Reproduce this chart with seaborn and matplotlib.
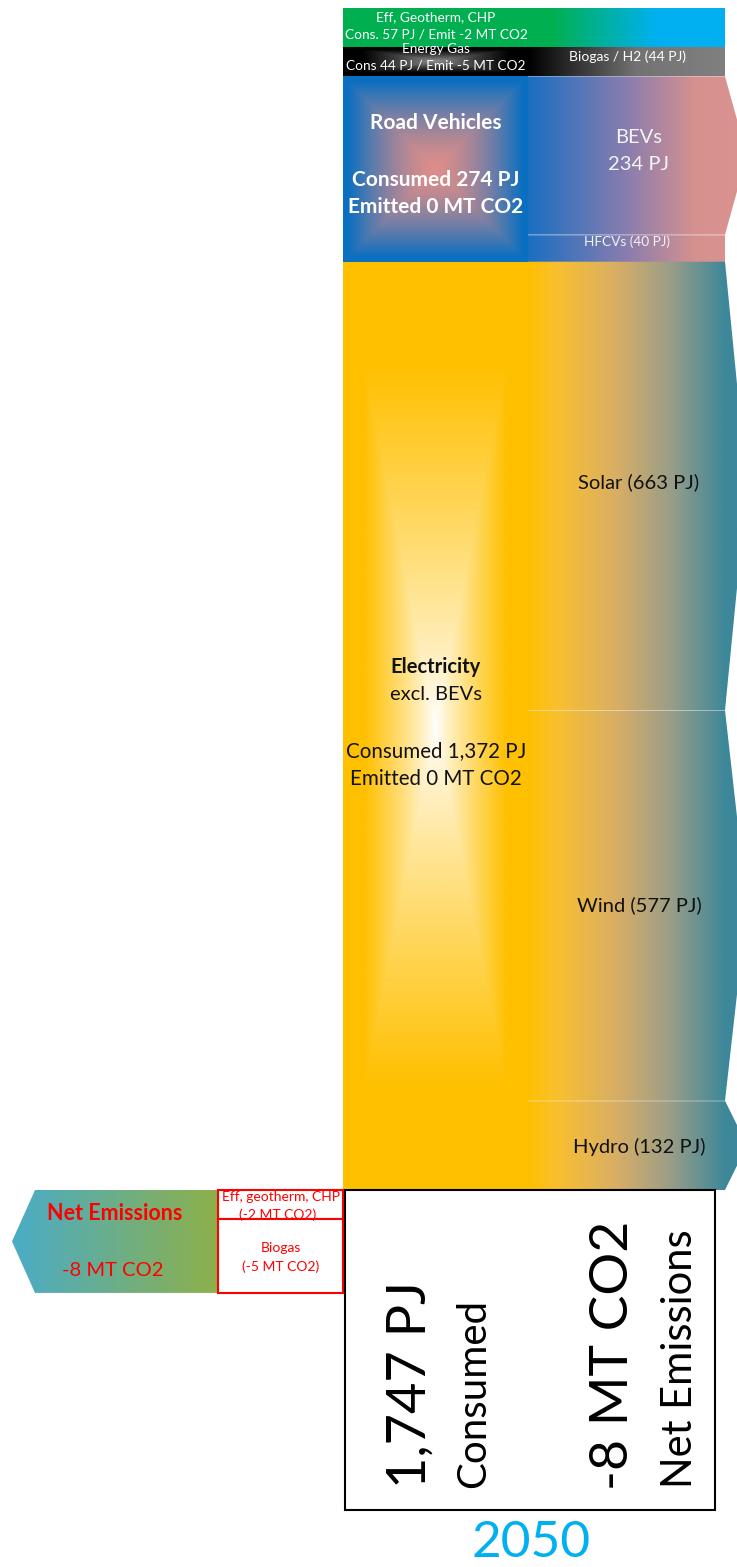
import numpy as np
import matplotlib
matplotlib.use("Agg")
import matplotlib.pyplot as plt
from matplotlib.patches import Polygon, Rectangle
from matplotlib.colors import LinearSegmentedColormap
import seaborn as sns

# ---- data -------------------------------------------------------------
year = "2050"

# consuming sectors, top to bottom (PJ and MT CO2)
sectors = ["Eff, Geotherm, CHP", "Energy Gas", "Road Vehicles", "Electricity"]
sector_pj = [57, 44, 274, 1372]
sector_co2 = [-2, -5, 0, 0]

# supply sources feeding the sectors, top to bottom (PJ)
sources = ["Eff, Geotherm, CHP", "Biogas / H2", "BEVs", "HFCVs", "Solar", "Wind", "Hydro"]
source_pj = [57, 44, 234, 40, 663, 577, 132]
source_arrow = [False, False, True, False, True, True, True]

# negative-emission contributions (MT CO2)
offset_labels = ["Eff, geotherm, CHP", "Biogas"]
offset_co2 = [-2, -5]
net_co2 = -8

total_pj = sum(sector_pj)

# ---- styling ----------------------------------------------------------
sns.set_theme(style="white")
plt.rcParams["font.family"] = ["Lato", "DejaVu Sans"]

W_PX, H_PX = 737, 1567
fig = plt.figure(figsize=(W_PX / 100, H_PX / 100), dpi=100)
ax = fig.add_axes([0, 0, 1, 1])
ax.set_axis_off()

TOP_PX, STACK_PX = 8, 1182
px_per_pj = STACK_PX / total_pj
px_per_mt = 14.7


def y_of(px):
    """Convert a vertical pixel offset into the PJ axis units."""
    return (px - TOP_PX) / px_per_pj


L0, L1 = 343, 528          # sector column
R1, TIP = 725, 22          # source column right edge and arrow depth


def cmap_from(stops):
    return LinearSegmentedColormap.from_list("g", stops)


def hgrad(stops, n=256):
    return cmap_from(stops)(np.linspace(0, 1, n))[None, :, :3]


def box_glow(w, h, center, edge, frac, power=1.0):
    nx = 160
    ny = max(8, int(nx * h / w))
    X, Y = np.meshgrid(np.linspace(-1, 1, nx), np.linspace(-1, 1, ny))
    t = np.clip(np.maximum(np.abs(X), np.abs(Y)) / frac, 0, 1) ** power
    return cmap_from([center, edge])(t)[..., :3]


def paint(patch, img, x0, x1, y0, y1, z=2):
    patch.set_facecolor("none")
    patch.set_edgecolor("none")
    im = ax.imshow(img, extent=(x0, x1, y1, y0), origin="upper",
                   aspect="auto", interpolation="bilinear", zorder=z)
    im.set_clip_path(patch)


# ---- sector column (stacked bar) -----------------------------------------
sec_bottom = np.concatenate([[0], np.cumsum(sector_pj)[:-1]])
bars = ax.bar([(L0 + L1) / 2] * len(sectors), sector_pj, bottom=sec_bottom,
              width=L1 - L0, color="none", linewidth=0, zorder=2)

sector_fill = [
    ("#00B050", "#00B050", 1.0, 1.0),
    ("#909090", "#000000", 0.8, 0.9),
    ("#DC8E8A", "#0A6FC1", 0.95, 1.5),
    ("#FFFFFF", "#FFC000", 0.78, 0.85),
]
for patch, b, v, (c_in, c_out, frac, pw) in zip(bars.patches, sec_bottom, sector_pj, sector_fill):
    h_px = v * px_per_pj
    img = box_glow(L1 - L0, h_px, c_in, c_out, frac, pw)
    paint(patch, img, L0, L1, b, b + v)

# ---- source column --------------------------------------------------------
src_grad = {
    0: [(0, "#00B050"), (0.12, "#00B050"), (0.65, "#00B0F0"), (1, "#00B0F0")],
    1: [(0, "#000000"), (0.1, "#151515"), (0.55, "#737373"), (1, "#808080")],
    2: [(0, "#1A6FC2"), (0.5, "#8A7DAE"), (0.85, "#D6918F"), (1, "#D9928F")],
    3: [(0, "#FFC000"), (0.15, "#F9BF30"), (0.45, "#D8AE66"), (0.72, "#9A9E88"), (1, "#3C8799")],
}
# stretch each gradient so it ends at the column edge and holds through the arrow tip
span = (R1 - L1) / (R1 + TIP - L1)
src_grad = {k: [(p * span, c) for p, c in v] + [(1, v[-1][1])] for k, v in src_grad.items()}

source_sector = [0, 1, 2, 2, 3, 3, 3]
src_bottom = np.concatenate([[0], np.cumsum(source_pj)[:-1]])
for i, (b, v) in enumerate(zip(src_bottom, source_pj)):
    t = b + v
    if source_arrow[i]:
        pts = [(L1, b), (R1, b), (R1 + TIP, (b + t) / 2), (R1, t), (L1, t)]
    else:
        pts = [(L1, b), (R1, b), (R1, t), (L1, t)]
    poly = Polygon(pts, closed=True)
    ax.add_patch(poly)
    paint(poly, hgrad(src_grad[source_sector[i]]), L1, R1 + TIP, b, t)

# faint seams between sources of the same sector
for i in range(1, len(source_pj)):
    if source_sector[i] == source_sector[i - 1]:
        ax.plot([L1, R1], [src_bottom[i]] * 2, color="white", lw=0.6,
                alpha=0.25, zorder=3)

# ---- labels on the stacks ---------------------------------------------------
W, K = "white", "#111111"
kw = dict(ha="center", va="center", zorder=5)
ax.text(436, y_of(17), sectors[0], color=W, fontsize=9.8, **kw)
ax.text(436, y_of(35), f"Cons. {sector_pj[0]} PJ / Emit {sector_co2[0]} MT CO2",
        color=W, fontsize=9.8, **kw)
ax.text(436, y_of(49), sectors[1], color=W, fontsize=9.8, **kw)
ax.text(436, y_of(66), f"Cons {sector_pj[1]} PJ / Emit {sector_co2[1]} MT CO2",
        color=W, fontsize=9.8, **kw)
ax.text(628, y_of(57), f"{sources[1]} ({source_pj[1]} PJ)", color=W, fontsize=10, **kw)

ax.text(436, y_of(123), sectors[2], color=W, fontsize=15, fontweight="bold", **kw)
ax.text(436, y_of(180), f"Consumed {sector_pj[2]} PJ", color=W, fontsize=15,
        fontweight="bold", **kw)
ax.text(436, y_of(207), f"Emitted {sector_co2[2]} MT CO2", color=W, fontsize=15,
        fontweight="bold", **kw)
ax.text(639, y_of(138), sources[2], color="#F4F4F4", fontsize=14.5, **kw)
ax.text(639, y_of(165), f"{source_pj[2]} PJ", color="#F4F4F4", fontsize=14.5, **kw)
ax.text(627, y_of(242), f"{sources[3]} ({source_pj[3]} PJ)", color="#F4F4F4", fontsize=9.8, **kw)

ax.text(436, y_of(667), sectors[3], color=K, fontsize=14.5, fontweight="bold", **kw)
ax.text(436, y_of(695), "excl. BEVs", color=K, fontsize=14.5, **kw)
ax.text(436, y_of(751), f"Consumed {sector_pj[3]:,} PJ", color=K, fontsize=14.8, **kw)
ax.text(436, y_of(779), f"Emitted {sector_co2[3]} MT CO2", color=K, fontsize=14.8, **kw)

for name, v, ypx in zip(sources[4:], source_pj[4:], [482, 905, 1147]):
    ax.text(639, y_of(ypx), f"{name} ({v} PJ)", color=K, fontsize=14.5, **kw)

# ---- emission offsets and net emissions -------------------------------------
RED = "#FF0000"
BX0, BX1 = 218, 343
yb = total_pj
for lab, co2 in zip(offset_labels, offset_co2):
    h = abs(co2) * px_per_mt / px_per_pj
    ax.add_patch(Rectangle((BX0, yb), BX1 - BX0, h, facecolor="white",
                           edgecolor=RED, lw=1.5, zorder=4))
    yb += h
ax.text(281, y_of(1197), offset_labels[0], color=RED, fontsize=10, **kw)
ax.text(278, y_of(1215), f"({offset_co2[0]} MT CO2)", color=RED, fontsize=10, **kw)
ax.text(281, y_of(1248), offset_labels[1], color=RED, fontsize=10, **kw)
ax.text(281, y_of(1267), f"({offset_co2[1]} MT CO2)", color=RED, fontsize=10, **kw)

ny0, ny1 = total_pj, yb
arrow = Polygon([(BX0, ny0), (35, ny0), (12, (ny0 + ny1) / 2), (35, ny1), (BX0, ny1)],
                closed=True)
ax.add_patch(arrow)
paint(arrow, hgrad([(0, "#4AACC8"), (1, "#8EB04A")]), 12, BX0, ny0, ny1, z=3)
ax.text(115, y_of(1214), "Net Emissions", color=RED, fontsize=15.5,
        fontweight="bold", **kw)
ax.text(113, y_of(1270), f"{net_co2} MT CO2", color=RED, fontsize=14.5, **kw)

# ---- totals box ---------------------------------------------------------
ax.add_patch(Rectangle((345, total_pj), 715 - 345, y_of(1510) - total_pj,
                       facecolor="white", edgecolor="black", lw=1.5, zorder=4))
rk = dict(rotation=90, ha="center", va="bottom", color="black", zorder=5)
ax.text(410, y_of(1488), f"{total_pj:,} PJ", fontsize=39, **rk)
ax.text(474, y_of(1488), "Consumed", fontsize=29, **rk)
ax.text(614, y_of(1490), f"{net_co2} MT CO2", fontsize=38.5, **rk)
ax.text(680, y_of(1488), "Net Emissions", fontsize=30, **rk)

ax.text(531, y_of(1557), year, color="#00B0F0", fontsize=37, ha="center",
        va="baseline", zorder=5)

ax.set_xlim(0, W_PX)
ax.set_ylim(y_of(H_PX), y_of(0))

fig.savefig("out.png", dpi=100)
